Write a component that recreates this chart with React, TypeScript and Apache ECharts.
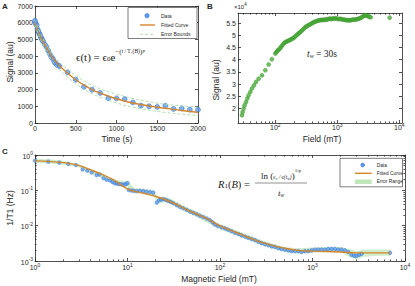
import React, { useEffect, useRef } from 'react';
import * as echarts from 'echarts';

// ---------- Panel A : signal decay ----------
const timeA = [0, 10, 20, 30, 40, 50, 60, 70, 80, 90, 100, 120, 140, 160, 180, 200, 220, 240, 260, 280, 300, 400, 500, 600, 700, 800, 900, 1000, 1100, 1200, 1300, 1400, 1500, 1600, 1700, 1800, 1900, 2000];
const signalA = [6120, 5950, 5850, 5620, 5500, 5380, 5280, 5150, 5060, 4960, 4880, 4700, 4560, 4340, 4140, 3960, 3830, 3640, 3530, 3450, 3390, 3030, 2590, 2160, 1990, 1800, 1480, 1470, 1430, 1230, 1040, 1000, 960, 1030, 840, 870, 800, 800];
const fitTimeA = [0, 25, 50, 100, 150, 200, 250, 300, 400, 500, 600, 700, 800, 900, 1000, 1200, 1400, 1600, 1800, 2000];
const fitA = [6000, 5600, 5300, 4850, 4430, 4000, 3700, 3420, 2980, 2590, 2270, 2000, 1790, 1610, 1450, 1200, 1020, 880, 750, 640];
const boundTimeA = [0, 100, 200, 300, 400, 500, 600, 800, 1000, 1200, 1400, 1600, 1800, 2000];
const upperA = [6150, 5050, 4220, 3650, 3220, 2850, 2530, 2040, 1730, 1470, 1270, 1120, 1020, 950];
const lowerA = [5850, 4650, 3780, 3190, 2740, 2340, 2010, 1540, 1200, 950, 770, 630, 530, 450];

// ---------- Panel B : signal vs field ----------
const fieldB = [29, 29.7, 30.8, 32, 33.7, 35.3, 37.1, 39.5, 42, 45.3, 48.8, 53.8, 61, 69, 78, 88,
  100, 104, 108, 112, 117, 122, 127, 133, 139, 146,
  153, 160, 168, 176, 185, 194, 204, 214, 225, 236,
  248, 260, 273, 287, 301, 316, 332, 349, 366, 385,
  404, 424, 445, 468, 491, 516, 542, 569, 597, 627,
  659, 692, 726, 763, 801, 841, 883, 927, 974, 1023,
  1074, 1128, 1184, 1244, 1306, 1371, 1440, 1512, 1588, 1667,
  1751, 1838, 1930, 2027, 2128, 2235, 2346, 2464, 2587, 2717,
  2853, 2995, 3145, 3302, 3467, 7000];
const signalB = [17300, 18600, 20000, 21400, 22700, 24100, 25400, 26800, 28200, 29500, 30900, 32200, 33600, 35700, 38000, 40200,
  42500, 43000, 43600, 44000, 44400, 45000, 45600, 46200, 46800, 47200,
  47400, 47700, 47900, 48200, 48500, 48800, 49200, 49700, 50200, 50700,
  51100, 51600, 52100, 52600, 53200, 53600, 53900, 54200, 54500, 54800,
  55100, 55400, 55600, 55800, 56000, 56100, 56200, 56300, 56200, 56400,
  56300, 56500, 56700, 56800, 56600, 56900, 56700, 57000, 56800, 56700,
  56600, 56700, 56500, 56400, 56300, 56200, 56100, 56200, 56000, 56200,
  56300, 56400, 56300, 56500, 56600, 56800, 57000, 57300, 57700, 58000,
  58200, 58100, 57800, 57500, 57400, 57200];
const xTicksB = [100, 1000, 10000];
const yTicksB = [20000, 25000, 30000, 35000, 40000, 45000, 50000, 55000];

// ---------- Panel C : relaxation rate ----------
const fieldC = [1, 1.39, 1.83, 2.29, 2.77, 3.27, 3.68, 4.1, 4.64, 5.0, 5.5, 5.95, 6.46, 6.9, 7.3, 7.7, 8.1, 8.6, 9.1, 9.6, 10.0, 10.3, 11.0, 11.6, 12.5, 13.6, 14.8, 16.1, 17.5, 19.0, 20.7, 22.0, 23.2, 24.4, 26.0, 27.6, 29.4, 31.3, 34.0, 36.9, 40.0, 43.6, 47.5, 51.5, 56.0, 60.8, 66.0, 71.8, 77.6, 83, 88, 95, 104, 113, 122, 133, 145, 158, 171, 186, 202, 220, 239, 260, 282, 306, 333, 362, 393, 427, 463, 503, 547, 595, 646, 702, 763, 829, 900, 978, 1063, 1155, 1255, 1365, 1480, 1610, 1750, 1900, 2065, 2240, 2440, 2640, 2820, 3000, 3200, 3400, 6890];
const r1C = [0.69, 0.65, 0.61, 0.56, 0.52, 0.39, 0.36, 0.32, 0.27, 0.28, 0.22, 0.20, 0.19, 0.17, 0.158, 0.155, 0.15, 0.148, 0.145, 0.15, 0.16, 0.102, 0.099, 0.097, 0.096, 0.097, 0.095, 0.091, 0.09, 0.086, 0.045, 0.053, 0.055, 0.056, 0.054, 0.05, 0.047, 0.043, 0.038, 0.034, 0.031, 0.028, 0.025, 0.023, 0.021, 0.019, 0.0175, 0.016, 0.0145, 0.0125, 0.0108, 0.0098, 0.009, 0.0084, 0.0077, 0.007, 0.0063, 0.0058, 0.0053, 0.0049, 0.0045, 0.0042, 0.0039, 0.0035, 0.0032, 0.003, 0.0028, 0.0026, 0.0025, 0.0023, 0.0022, 0.0021, 0.002, 0.0019, 0.0019, 0.0019, 0.0018, 0.0019, 0.0019, 0.002, 0.0021, 0.0021, 0.0021, 0.0021, 0.0022, 0.0022, 0.0022, 0.0021, 0.0021, 0.002, 0.0018, 0.0015, 0.0014, 0.0014, 0.0015, 0.0016, 0.0017];
const fitFieldC = [1, 1.5, 2, 2.5, 3, 4, 5, 7, 10, 15, 20, 30, 50, 70, 100, 150, 200, 300, 500, 700, 1000, 2000, 3000, 5000, 7000];
const fitC = [0.68, 0.65, 0.61, 0.56, 0.5, 0.38, 0.3, 0.2, 0.11, 0.082, 0.068, 0.046, 0.024, 0.0165, 0.0098, 0.0064, 0.0047, 0.0032, 0.0023, 0.002, 0.0019, 0.0018, 0.0017, 0.0017, 0.0017];
const bandFieldC = [1, 1.5, 2, 3, 4, 5, 7, 9, 10, 12, 15, 19, 21, 25, 30, 40, 60, 100, 150, 200, 300, 500, 700, 1000, 1500, 2000, 2500, 3000, 3500, 5000, 7000];
const bandUpperC = [0.78, 0.74, 0.69, 0.55, 0.4, 0.33, 0.21, 0.18, 0.18, 0.115, 0.11, 0.1, 0.065, 0.066, 0.056, 0.037, 0.023, 0.011, 0.0073, 0.0055, 0.0036, 0.0025, 0.0023, 0.0024, 0.0025, 0.0025, 0.0022, 0.0019, 0.0021, 0.0021, 0.0021];
const bandLowerC = [0.6, 0.57, 0.53, 0.44, 0.3, 0.24, 0.16, 0.13, 0.125, 0.082, 0.08, 0.073, 0.04, 0.047, 0.04, 0.027, 0.016, 0.0078, 0.0053, 0.004, 0.0026, 0.0018, 0.0016, 0.0017, 0.0018, 0.0018, 0.0013, 0.0011, 0.0013, 0.0014, 0.0014];
const xTicksC = [1, 10, 100, 1000, 10000];
const yTicksC = [0.001, 0.01, 0.1, 1];

// ---------- styling ----------
const FONT = '"Liberation Sans", Arial, Helvetica, sans-serif';
const SERIF = '"Liberation Serif", "DejaVu Serif", serif';
const AXC = '#262626';
const BLUE = '#5b9cf2';
const BLUE_E = '#2a62c9';
const ORANGE = '#d4862a';
const GREEN_D = '#a6dc9c';
const GREEN = '#4caf3a';
const GREEN_E = '#2f8a24';

const zip = (xs: number[], ys: number[]) => xs.map((x, i) => [x, ys[i]]);
const minorLog = (lo: number, hi: number) => {
  const out: number[] = [];
  for (let e = lo; e < hi; e++) for (let m = 2; m <= 9; m++) out.push(Number((m * Math.pow(10, e)).toPrecision(6)));
  return out;
};
const powLabel = (v: number) => `{b|10}{s|${Math.round(Math.log10(v))}}`;
const powRich = {
  b: { fontSize: 7, fontFamily: FONT, color: AXC, verticalAlign: 'bottom', lineHeight: 8 },
  s: { fontSize: 5, fontFamily: FONT, color: AXC, verticalAlign: 'bottom', padding: [0, 0, 4, 0] },
};
const axLine = { color: AXC, width: 0.8 };

function mkAxis(gridIndex: number, position: string, type: string, min: number, max: number, o: any = {}) {
  const a: any = {
    gridIndex, position, type, min, max,
    axisLine: { show: o.line !== false, onZero: false, lineStyle: axLine },
    axisTick: { show: true, inside: true, length: o.tickLen ?? 3, lineStyle: axLine },
    axisLabel: { show: false },
    splitLine: { show: false },
    minorTick: { show: false },
    minorSplitLine: { show: false },
  };
  if (type === 'log') a.logBase = 10;
  if (o.interval) a.interval = o.interval;
  if (o.ticks) a.axisTick.customValues = o.ticks;
  if (o.label) {
    a.axisLabel = { show: true, margin: o.margin ?? 2, fontSize: 7, fontFamily: FONT, color: AXC };
    if (o.ticks) a.axisLabel.customValues = o.ticks;
    if (o.formatter) a.axisLabel.formatter = o.formatter;
    if (o.rich) a.axisLabel.rich = o.rich;
  }
  return a;
}

const txt = (text: string, x: number, y: number, extra: any = {}, el: any = {}) => ({
  type: 'text', x, y, z: 100, ...el,
  style: { text, fontSize: 8.5, fontFamily: FONT, fill: AXC, align: 'center', verticalAlign: 'middle', ...extra },
});
const plain = (v: number) => String(v);

export default function App() {
  const ref = useRef<HTMLDivElement>(null);
  useEffect(() => {
    document.body.style.margin = '0';
    const chart = echarts.init(ref.current!, null, { renderer: 'svg' });
    const minorB = minorLog(1, 4).filter((v) => v >= 25 && v <= 11000);
    const minorCx = minorLog(0, 4);
    const minorCy = minorLog(-3, 0);

    const option: any = {
      animation: false,
      backgroundColor: '#ffffff',
      grid: [
        { left: 35, top: 6, width: 163, height: 117 },
        { left: 238, top: 13, width: 164, height: 110 },
        { left: 35, top: 155, width: 370, height: 106 },
      ],
      xAxis: [
        mkAxis(0, 'bottom', 'value', 0, 2000, { interval: 500, label: true, margin: 2, formatter: plain }),
        mkAxis(0, 'top', 'value', 0, 2000, { interval: 500 }),
        mkAxis(1, 'bottom', 'log', 25, 11070, { ticks: xTicksB, label: true, margin: -1, formatter: powLabel, rich: powRich }),
        mkAxis(1, 'top', 'log', 25, 11070, { ticks: xTicksB }),
        mkAxis(1, 'bottom', 'log', 25, 11070, { ticks: minorB, tickLen: 1.6, line: false }),
        mkAxis(1, 'top', 'log', 25, 11070, { ticks: minorB, tickLen: 1.6, line: false }),
        mkAxis(2, 'bottom', 'log', 1, 10000, { ticks: xTicksC, label: true, margin: 1, formatter: powLabel, rich: powRich }),
        mkAxis(2, 'top', 'log', 1, 10000, { ticks: xTicksC }),
        mkAxis(2, 'bottom', 'log', 1, 10000, { ticks: minorCx, tickLen: 1.6, line: false }),
        mkAxis(2, 'top', 'log', 1, 10000, { ticks: minorCx, tickLen: 1.6, line: false }),
      ],
      yAxis: [
        mkAxis(0, 'left', 'value', 0, 7000, { interval: 1000, label: true, margin: 2, formatter: plain }),
        mkAxis(0, 'right', 'value', 0, 7000, { interval: 1000 }),
        mkAxis(1, 'left', 'value', 14100, 59100, { ticks: yTicksB, label: true, margin: 2, formatter: (v: number) => String(v / 10000) }),
        mkAxis(1, 'right', 'value', 14100, 59100, { ticks: yTicksB }),
        mkAxis(2, 'left', 'log', 0.001, 1, { ticks: yTicksC, label: true, margin: 2, formatter: powLabel, rich: powRich }),
        mkAxis(2, 'right', 'log', 0.001, 1, { ticks: yTicksC }),
        mkAxis(2, 'left', 'log', 0.001, 1, { ticks: minorCy, tickLen: 1.6, line: false }),
        mkAxis(2, 'right', 'log', 0.001, 1, { ticks: minorCy, tickLen: 1.6, line: false }),
      ],
      series: [
        {
          name: 'Data', type: 'scatter', xAxisIndex: 0, yAxisIndex: 0, data: zip(timeA, signalA),
          symbolSize: 5, itemStyle: { color: BLUE, borderColor: BLUE_E, borderWidth: 0.6 },
        },
        {
          name: 'Fitted Curve', type: 'line', xAxisIndex: 0, yAxisIndex: 0, data: zip(fitTimeA, fitA),
          smooth: true, showSymbol: false, lineStyle: { color: ORANGE, width: 1.4 },
        },
        {
          name: 'Error Bounds', type: 'line', xAxisIndex: 0, yAxisIndex: 0, data: zip(boundTimeA, upperA),
          smooth: true, showSymbol: false, lineStyle: { color: GREEN_D, width: 0.9, type: [3, 2] },
        },
        {
          name: 'Error Bounds Low', type: 'line', xAxisIndex: 0, yAxisIndex: 0, data: zip(boundTimeA, lowerA),
          smooth: true, showSymbol: false, lineStyle: { color: GREEN_D, width: 0.9, type: [3, 2] },
        },
        {
          name: 'Signal B', type: 'scatter', xAxisIndex: 2, yAxisIndex: 2, data: zip(fieldB, signalB),
          symbolSize: 4, itemStyle: { color: GREEN, borderColor: GREEN_E, borderWidth: 0.5 },
        },
        {
          name: 'Error Range', type: 'custom', xAxisIndex: 6, yAxisIndex: 4, data: [[10, 0.01]], silent: true,
          renderItem: (_p: any, api: any) => {
            const pts: number[][] = [];
            bandFieldC.forEach((x, i) => pts.push(api.coord([x, bandUpperC[i]])));
            for (let i = bandFieldC.length - 1; i >= 0; i--) pts.push(api.coord([bandFieldC[i], bandLowerC[i]]));
            return { type: 'polygon', shape: { points: pts }, style: { fill: 'rgba(150,215,140,0.45)' } };
          },
        },
        {
          name: 'Fitted Curve C', type: 'line', xAxisIndex: 6, yAxisIndex: 4, data: zip(fitFieldC, fitC),
          smooth: true, showSymbol: false, lineStyle: { color: ORANGE, width: 1.4 },
        },
        {
          name: 'Data C', type: 'scatter', xAxisIndex: 6, yAxisIndex: 4, data: zip(fieldC, r1C),
          symbolSize: 3.6, itemStyle: { color: BLUE, borderColor: BLUE_E, borderWidth: 0.5 },
        },
      ],
      graphic: [
        txt('A', 5, 6, { fontWeight: 'bold', fontSize: 8 }),
        txt('B', 210, 6, { fontWeight: 'bold', fontSize: 8 }),
        txt('C', 5, 151, { fontWeight: 'bold', fontSize: 8 }),
        txt('Signal (au)', 10, 62, {}, { rotation: Math.PI / 2 }),
        txt('Time (s)', 117, 139),
        txt('Signal (au)', 216, 80, {}, { rotation: Math.PI / 2 }),
        txt('Field (mT)', 322, 139),
        txt('1/T1 (Hz)', 10, 208, {}, { rotation: Math.PI / 2 }),
        txt('Magnetic Field (mT)', 219, 279),
        {
          type: 'text', x: 234, y: 6, z: 100,
          style: {
            text: '{m|×10}{s|4}', align: 'left', verticalAlign: 'middle',
            rich: {
              m: { fontSize: 6, fontFamily: FONT, fill: AXC, verticalAlign: 'bottom', lineHeight: 7 },
              s: { fontSize: 4.5, fontFamily: FONT, fill: AXC, verticalAlign: 'bottom', padding: [0, 0, 3, 0] },
            },
          },
        },
        // legend A
        { type: 'rect', z: 100, shape: { x: 128, y: 7.5, width: 69, height: 31 }, style: { fill: '#fff', stroke: AXC, lineWidth: 0.6 } },
        { type: 'circle', z: 101, shape: { cx: 147, cy: 15.7, r: 2.2 }, style: { fill: BLUE, stroke: BLUE_E, lineWidth: 0.5 } },
        { type: 'line', z: 101, shape: { x1: 140, y1: 25, x2: 155, y2: 25 }, style: { stroke: ORANGE, lineWidth: 1.4 } },
        { type: 'line', z: 101, shape: { x1: 140, y1: 34.3, x2: 155, y2: 34.3 }, style: { stroke: GREEN_D, lineWidth: 0.9, lineDash: [3, 2] } },
        txt('Data', 161, 15.7, { fontSize: 5, align: 'left' }, { z: 102 }),
        txt('Fitted Curve', 161, 25, { fontSize: 5, align: 'left' }, { z: 102 }),
        txt('Error Bounds', 161, 34.3, { fontSize: 5, align: 'left' }, { z: 102 }),
        // legend C
        { type: 'rect', z: 100, shape: { x: 340, y: 158.3, width: 62.5, height: 28.5 }, style: { fill: '#fff', stroke: AXC, lineWidth: 0.6 } },
        { type: 'circle', z: 101, shape: { cx: 362.7, cy: 165, r: 1.9 }, style: { fill: BLUE, stroke: BLUE_E, lineWidth: 0.5 } },
        { type: 'line', z: 101, shape: { x1: 355, y1: 173.3, x2: 371.7, y2: 173.3 }, style: { stroke: ORANGE, lineWidth: 1.4 } },
        { type: 'rect', z: 101, shape: { x: 355, y: 179.5, width: 16.7, height: 4.5 }, style: { fill: 'rgba(150,215,140,0.6)' } },
        txt('Data', 376.7, 165, { fontSize: 4.8, align: 'left' }, { z: 102 }),
        txt('Fitted Curve', 376.7, 173.3, { fontSize: 4.8, align: 'left' }, { z: 102 }),
        txt('Error Range', 376.7, 181.7, { fontSize: 4.8, align: 'left' }, { z: 102 }),
        // formula A
        {
          type: 'text', x: 76, y: 55, z: 100,
          style: {
            text: '{a|ϵ(t) = ϵ}{sb|0}{a|e}{sp|−(}{fr|t / T₁(B)}{sp|)}{pp|p}', align: 'left', verticalAlign: 'middle',
            rich: {
              a: { fontSize: 11, fontFamily: SERIF, fontWeight: 'normal', fill: '#222', verticalAlign: 'bottom', lineHeight: 14 },
              sb: { fontSize: 7, fontFamily: SERIF, fill: '#222', verticalAlign: 'bottom', lineHeight: 8 },
              sp: { fontSize: 7, fontFamily: SERIF, fill: '#222', verticalAlign: 'top', lineHeight: 8 },
              fr: { fontSize: 5.5, fontFamily: SERIF, fill: '#222', verticalAlign: 'top', lineHeight: 8 },
              pp: { fontSize: 5, fontFamily: SERIF, fill: '#222', verticalAlign: 'top', lineHeight: 6 },
            },
          },
        },
        // t_w = 30s
        {
          type: 'text', x: 307, y: 53, z: 100,
          style: {
            text: '{i|t}{s|w}{n| = 30s}', align: 'left', verticalAlign: 'middle',
            rich: {
              i: { fontSize: 9.5, fontFamily: SERIF, fontStyle: 'italic', fill: '#222', verticalAlign: 'bottom', lineHeight: 12 },
              s: { fontSize: 6, fontFamily: SERIF, fontStyle: 'italic', fill: '#222', verticalAlign: 'bottom', lineHeight: 8 },
              n: { fontSize: 9.5, fontFamily: SERIF, fill: '#222', verticalAlign: 'bottom', lineHeight: 12 },
            },
          },
        },
        // formula C
        {
          type: 'text', x: 218, y: 183, z: 100,
          style: {
            text: '{i|R}{s|1}{n|(}{i|B}{n|) =}', align: 'left', verticalAlign: 'middle',
            rich: {
              i: { fontSize: 10.5, fontFamily: SERIF, fontStyle: 'italic', fill: '#222', verticalAlign: 'bottom', lineHeight: 13 },
              s: { fontSize: 7, fontFamily: SERIF, fill: '#222', verticalAlign: 'bottom', lineHeight: 9 },
              n: { fontSize: 10.5, fontFamily: SERIF, fill: '#222', verticalAlign: 'bottom', lineHeight: 13 },
            },
          },
        },
        {
          type: 'text', x: 281, y: 174, z: 100,
          style: {
            text: '{n|ln (}{f|ϵ₀ / ϵ(t}{fs|w}{f|)}{n|)}{sp|1/p}', align: 'center', verticalAlign: 'middle',
            rich: {
              n: { fontSize: 9, fontFamily: SERIF, fill: '#222', verticalAlign: 'bottom', lineHeight: 12 },
              f: { fontSize: 5.5, fontFamily: SERIF, fontStyle: 'italic', fill: '#222', verticalAlign: 'bottom', lineHeight: 10 },
              fs: { fontSize: 4, fontFamily: SERIF, fontStyle: 'italic', fill: '#222', verticalAlign: 'bottom', lineHeight: 8 },
              sp: { fontSize: 5, fontFamily: SERIF, fill: '#222', verticalAlign: 'top', lineHeight: 5 },
            },
          },
        },
        { type: 'line', z: 100, shape: { x1: 255, y1: 183, x2: 307, y2: 183 }, style: { stroke: '#222', lineWidth: 0.5 } },
        {
          type: 'text', x: 281, y: 192, z: 100,
          style: {
            text: '{i|t}{s|w}', align: 'center', verticalAlign: 'middle',
            rich: {
              i: { fontSize: 9, fontFamily: SERIF, fontStyle: 'italic', fill: '#222', verticalAlign: 'bottom', lineHeight: 11 },
              s: { fontSize: 5.5, fontFamily: SERIF, fontStyle: 'italic', fill: '#222', verticalAlign: 'bottom', lineHeight: 7 },
            },
          },
        },
      ],
    };
    chart.setOption(option);
    return () => chart.dispose();
  }, []);
  return <div ref={ref} style={{ position: 'fixed', left: 0, top: 0, width: 415, height: 286 }} />;
}
